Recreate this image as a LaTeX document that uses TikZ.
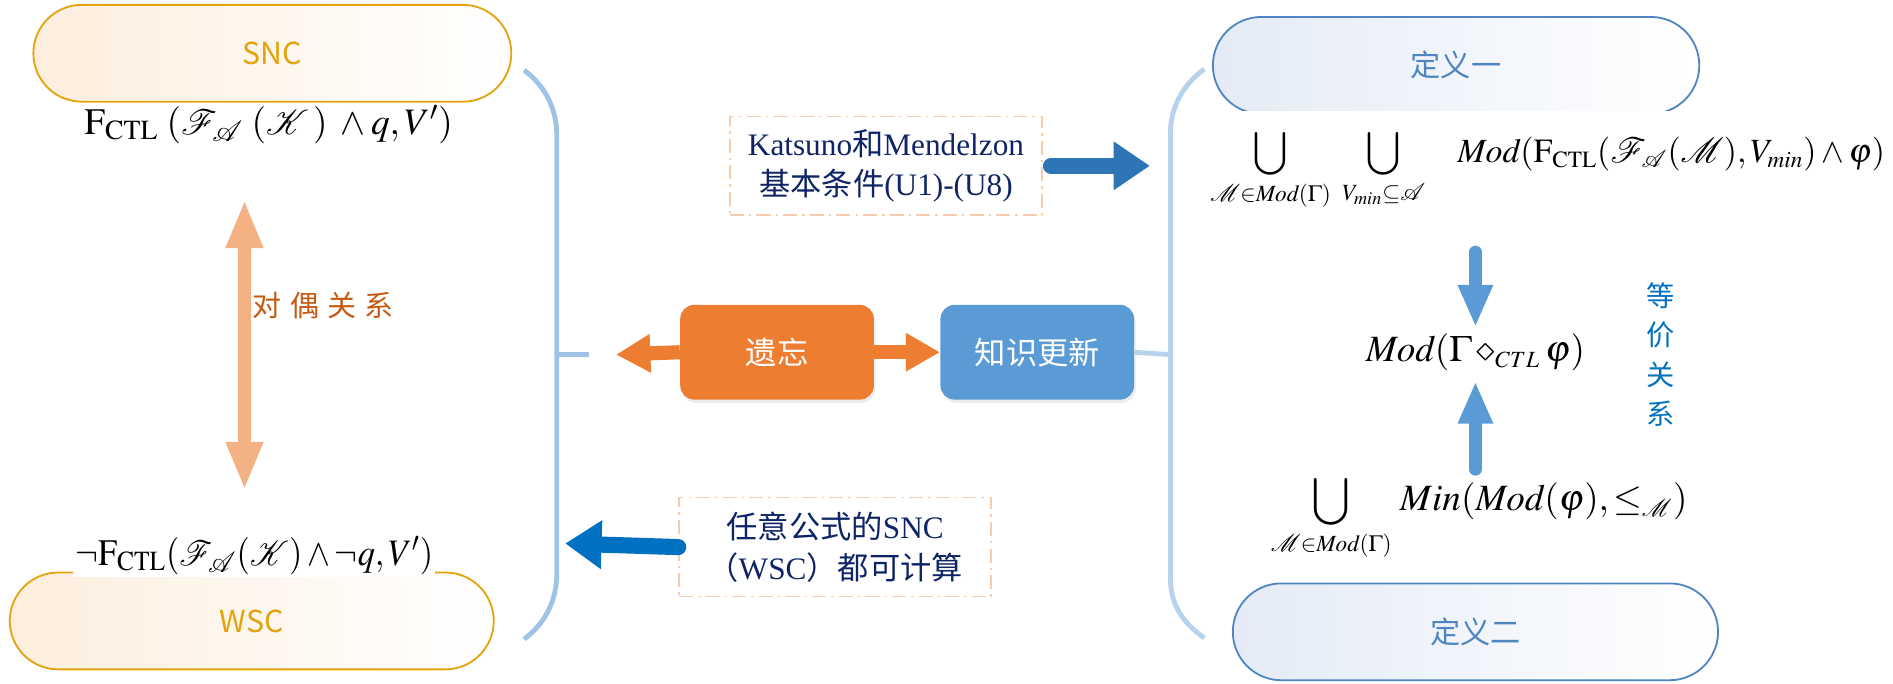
\documentclass[tikz,border=0pt]{standalone}
\usepackage{mathptmx}
\usepackage{mathrsfs}
\usepackage[no-math]{fontspec}
\setmainfont{Liberation Serif}
\newfontfamily\cjk{Noto Sans CJK SC}
\usetikzlibrary{arrows.meta,shapes.misc,shadows}
\DeclareMathSizes{18.4}{18.4}{11.5}{9}
\DeclareMathSizes{16.8}{16.8}{11.5}{9}

\definecolor{gold}{HTML}{E2A30C}
\definecolor{goldfill}{HTML}{FDEEDD}
\definecolor{steel}{HTML}{4F86C1}
\definecolor{steelfill}{HTML}{E4EBF6}
\definecolor{forgetc}{HTML}{ED7D31}
\definecolor{updatec}{HTML}{5B9BD5}
\definecolor{peach}{HTML}{F4B183}
\definecolor{dashc}{HTML}{F8CBAD}
\definecolor{navy}{HTML}{0E2466}
\definecolor{rust}{HTML}{C55A11}
\definecolor{ocean}{HTML}{0070C0}
\definecolor{darkblue}{HTML}{2E75B6}
\definecolor{bracketc}{HTML}{9FC3E6}

\newcommand{\FCTL}{\mathrm{F}_{\mathrm{CTL}}}
\newcommand{\Md}{\mathit{Mod}}

\begin{document}
\begin{tikzpicture}[x=0.6pt, y=-0.6pt]
\tikzstyle{pill} = [rounded rectangle, minimum height=48pt, line width=0.9pt, font=\cjk\fontsize{15}{18}\selectfont];
\tikzstyle{sncpill} = [pill, draw=gold, text=gold, left color=goldfill, right color=white];
\tikzstyle{defpill} = [pill, draw=steel, text=steel, left color=steelfill, right color=white];
\tikzstyle{opbox} = [rounded corners=7pt, minimum width=96pt, minimum height=47pt, text=white, font=\cjk\fontsize{15.5}{18}\selectfont, drop shadow={opacity=0.15, shadow xshift=0.8pt, shadow yshift=-1.6pt}];
\tikzstyle{notebox} = [draw=dashc, line width=0.8pt, dash pattern=on 7pt off 2.5pt on 1.2pt off 2.5pt, minimum width=154.8pt, minimum height=49pt, align=center, text=navy, font=\fontsize{15.5}{20}\selectfont];
\tikzstyle{formula} = [inner sep=1pt, font=\fontsize{18.5}{22}\selectfont];
\tikzstyle{rformula} = [inner sep=1pt, font=\fontsize{18.4}{22}\selectfont];
\tikzstyle{bracket} = [draw=bracketc, line width=2.4pt];
\tikzstyle{duo} = [draw=peach, line width=6pt, {Triangle[width=17pt,length=24pt]}-{Triangle[width=17pt,length=24pt]}];
\tikzstyle{orangearrow} = [draw=forgetc, line width=7pt, -{Triangle[width=18pt,length=17pt]}];
\tikzstyle{bluearrow} = [draw=updatec, line width=6pt, line cap=round, -{Triangle[width=16pt,length=21pt]}];
\tikzstyle{fatarrow} = [line width=8pt, line cap=round, -{Triangle[width=23pt,length=18pt]}];

\useasboundingbox (0,0) rectangle (1564,565);

% left side
\node[sncpill, minimum width=243.6pt] (snc) at (225,44) {SNC};
\node[sncpill, minimum width=246.6pt] (wsc) at (208,513) {WSC};
\node[formula] (sncf) at (222,103) {$\FCTL\;(\mathscr{F}_{\mathscr{A}}\;(\mathscr{K}\,)\;\wedge q, V')$};
\node[formula, fill=white] (wscf) at (210,459) {\scalebox{0.92}[1]{$\neg\FCTL(\mathscr{F}_{\mathscr{A}}(\mathscr{K})\wedge\neg q, V')$}};
\coordinate (dualtop) at (202,165);
\coordinate (dualbot) at (202,405);
\draw[duo] (dualtop) -- (dualbot);
\node[text=rust, font=\cjk\fontsize{14.4}{16}\selectfont] (dual) at (267,252) {对\hspace{4pt}偶\hspace{4pt}关\hspace{4pt}系};

\draw[bracket] (433,58) .. controls (452,72) and (460,92) .. (460,112) -- (460,474) .. controls (460,494) and (452,514) .. (433,528);
\draw[bracket] (460,293) -- (487,293);

% middle
\node[opbox, fill=forgetc] (forget) at (642,291) {遗忘};
\node[opbox, fill=updatec] (update) at (857,291) {知识更新};
\coordinate (forgettip) at (509,293);
\draw[orangearrow] (forget.west) -- (forgettip);
\draw[orangearrow] (forget.east) -- (update.west);

\node[notebox] (km) at (732,137) {Katsuno{\cjk 和}Mendelzon\\{\cjk 基本条件}(U1)-(U8)};
\coordinate (kmtip) at (950,137);
\draw[fatarrow, draw=darkblue, fill=darkblue, shorten <=4pt] (km.east) -- (kmtip);

\node[notebox] (anyf) at (690,452) {{\cjk 任意公式的}SNC\\{\cjk （}WSC{\cjk ）都可计算}};
\coordinate (anytip) at (467,449);
\draw[fatarrow, draw=ocean, fill=ocean] (anyf.west) -- (anytip);

% right side
\draw[bracket, draw=bracketc!75] (995,57) .. controls (976,71) and (967,90) .. (967,110) -- (967,478) .. controls (967,498) and (976,514) .. (995,527);
\draw[bracket, draw=bracketc!75] (update.east) -- (967,293);

\node[defpill, minimum width=247.8pt] (def1) at (1203,54) {定义一};
\node[defpill, minimum width=247.2pt] (def2) at (1219,522) {定义二};

\node[rformula, font=\fontsize{16.8}{20}\selectfont, fill=white, inner ysep=9pt, anchor=base west] (modf) at (998,134) {$\displaystyle\bigcup_{\mathscr{M}\in\Md(\Gamma)}\;\bigcup_{V_{min}\subseteq\mathscr{A}}\hspace{14pt}\Md(\FCTL(\mathscr{F}_{\mathscr{A}}(\mathscr{M}),V_{min})\wedge\varphi)$};
\node[rformula] (revf) at (1219,291) {$\Md(\Gamma\diamond_{CTL}\varphi)$};
\node[rformula, fill=white, anchor=base west] (minf) at (1048,422) {$\displaystyle\bigcup_{\mathscr{M}\in\Md(\Gamma)}\,Min(\Md(\varphi),\leq_{\mathscr{M}})$};

\coordinate (downtail) at (1219,208);
\coordinate (uptail) at (1219,388);
\draw[bluearrow, shorten >=2pt] (downtail) -- (revf.north);
\draw[bluearrow, shorten >=4pt] (uptail) -- (revf.south);

\node[text=ocean, align=center, font=\cjk\fontsize{14}{19.5}\selectfont] (eqv) at (1372,293) {等\\价\\关\\系};
\end{tikzpicture}
\end{document}
